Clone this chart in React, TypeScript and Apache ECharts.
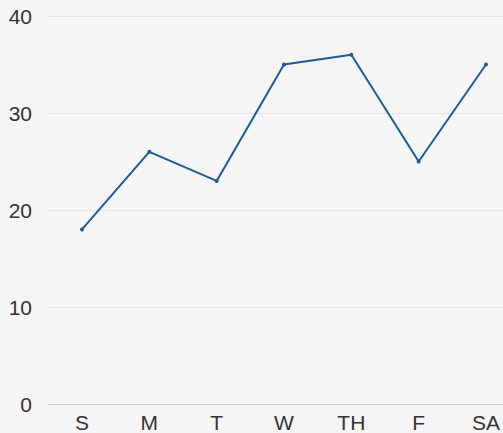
import React, { useEffect, useRef } from "react";
import * as echarts from "echarts";

const categories = ["S", "M", "T", "W", "TH", "F", "SA"];
const values = [18, 26, 23, 35, 36, 25, 35];
const yTicks = [0, 10, 20, 30, 40];

export default function App() {
  const ref = useRef<HTMLDivElement>(null);
  useEffect(() => {
    document.body.style.margin = "0";
    const chart = echarts.init(ref.current!, null, { renderer: "svg" });
    const yMin = yTicks[0];
    const yMax = yTicks[yTicks.length - 1];
    chart.setOption({
      animation: false,
      backgroundColor: "#f5f5f5",
      grid: [
        { left: 48, right: 0, top: 16, bottom: 29, containLabel: false },
        { left: 82, right: 17, top: 16, bottom: 29, containLabel: false },
      ],
      xAxis: [
        {
          gridIndex: 0,
          type: "category",
          data: categories,
          axisTick: { show: false },
          axisLabel: { show: false },
          axisLine: { lineStyle: { color: "#cccccc", width: 1 } },
        },
        {
          gridIndex: 1,
          type: "category",
          data: categories,
          boundaryGap: false,
          axisTick: { show: false },
          axisLine: { show: false },
          axisLabel: { color: "#333", fontSize: 21, fontFamily: "Liberation Sans", margin: 8 },
        },
      ],
      yAxis: [
        {
          gridIndex: 0,
          type: "value",
          min: yMin,
          max: yMax,
          interval: 10,
          axisLine: { show: false },
          axisTick: { show: false },
          splitLine: { lineStyle: { color: "#e4e4e4", width: 1 } },
          axisLabel: { color: "#333", fontSize: 21, fontFamily: "Liberation Sans", margin: 16 },
        },
        {
          gridIndex: 1,
          type: "value",
          min: yMin,
          max: yMax,
          interval: 10,
          show: false,
          splitLine: { show: false },
        },
      ],
      series: [
        {
          type: "line",
          xAxisIndex: 1,
          yAxisIndex: 1,
          data: values,
          symbol: "circle",
          symbolSize: 4,
          lineStyle: { color: "#1f5a96", width: 2 },
          itemStyle: { color: "#1f5a96" },
        },
      ],
    });
    return () => chart.dispose();
  }, []);
  return <div ref={ref} style={{ width: 503, height: 433 }} />;
}
